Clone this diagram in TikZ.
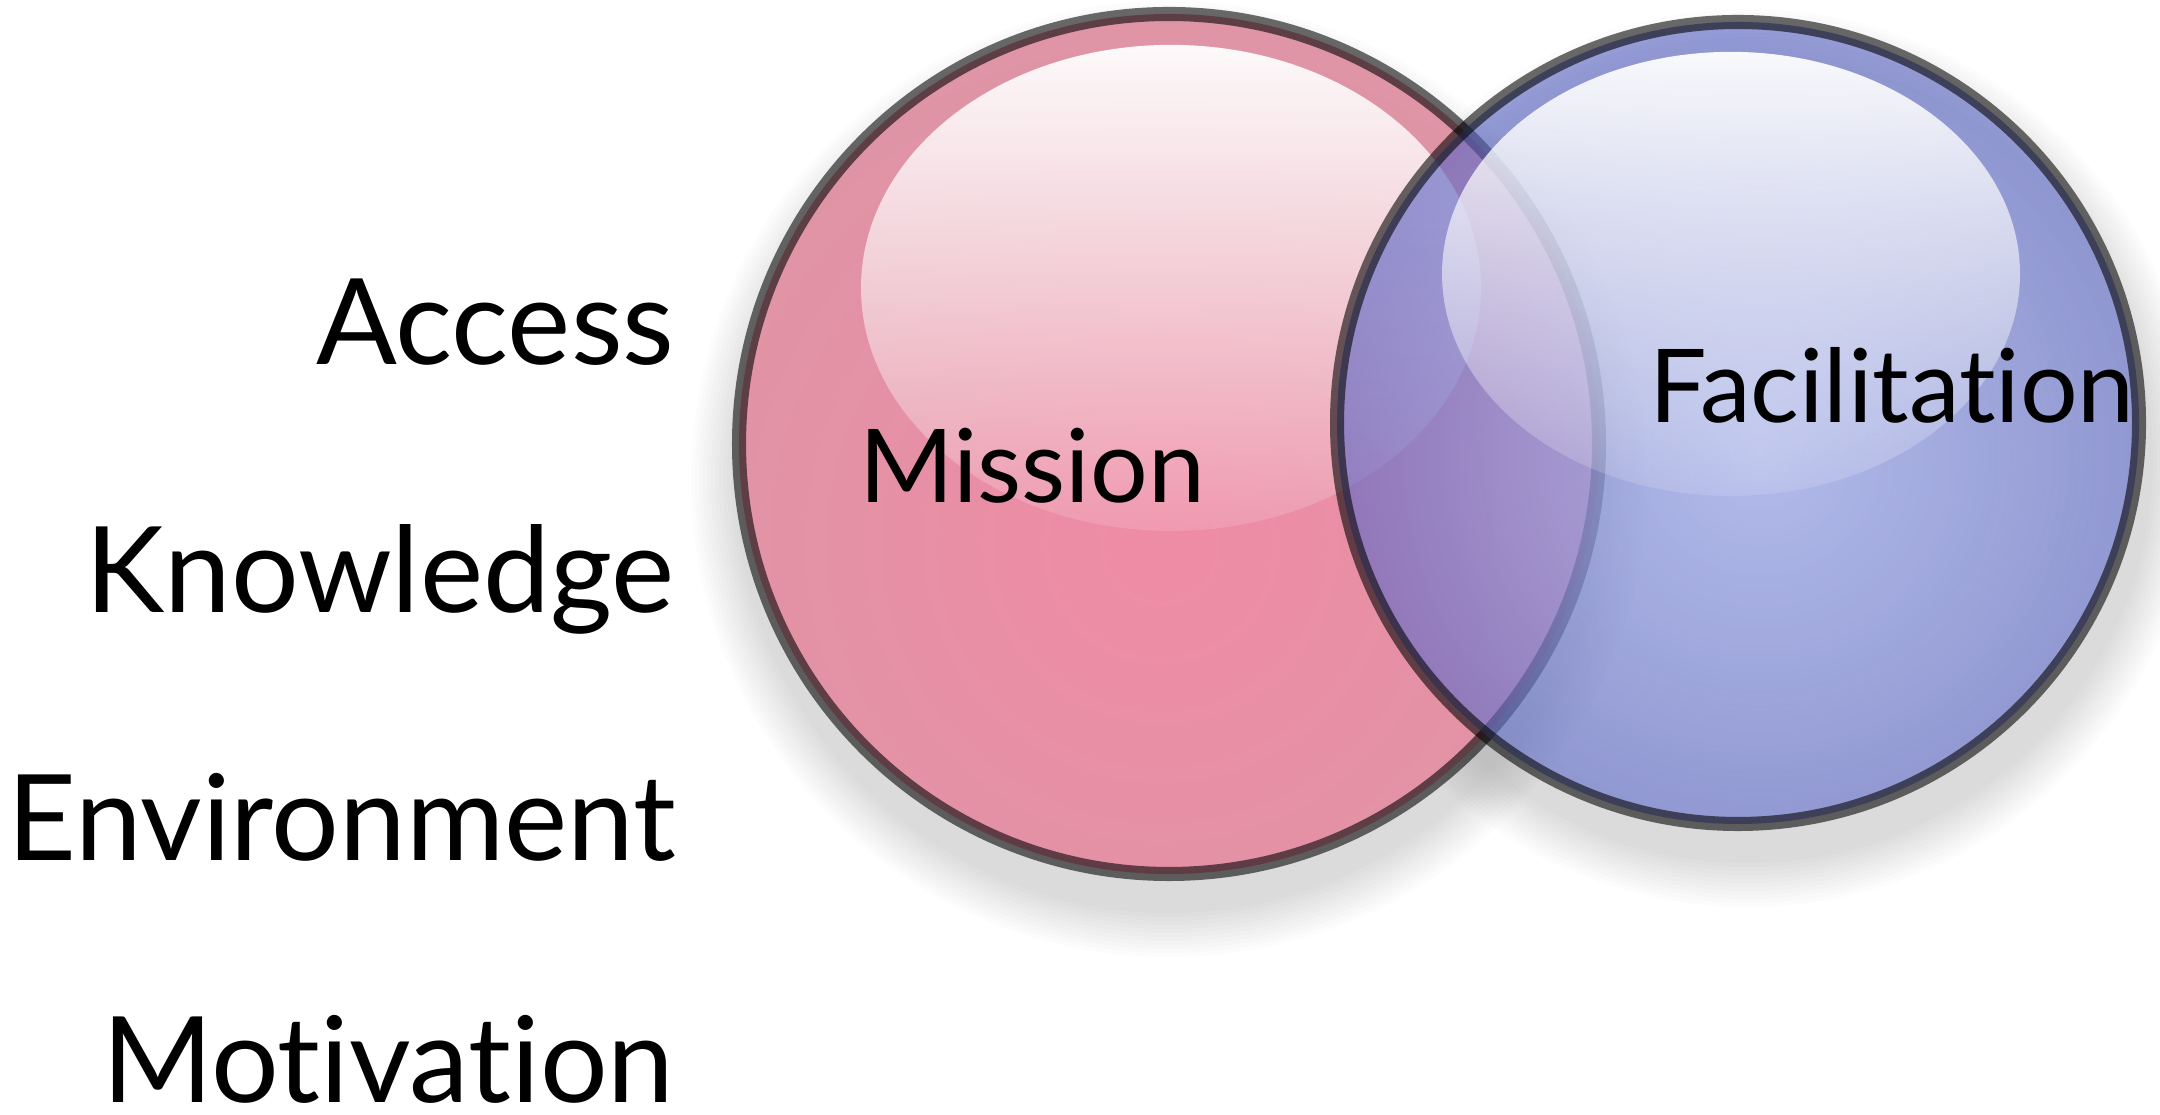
\documentclass[tikz,border=0pt]{standalone}
\usepackage{fontspec}
\setmainfont{Lato}[Ligatures=NoCommon]
\usetikzlibrary{fadings,calc}
\definecolor{missionpink}{RGB}{223,149,165}
\definecolor{missionglow}{RGB}{240,140,166}
\definecolor{facilblue}{RGB}{86,98,196}
\definecolor{facilglow}{RGB}{205,215,255}
\tikzfading[name=glossfade, top color=transparent!5, bottom color=transparent!88]
\tikzfading[name=glowfade, inner color=transparent!0, outer color=transparent!100]
\tikzset{
  factor/.style = {font=\fontsize{34}{40}\selectfont, anchor=base east,
    inner sep=0pt},
  venntext/.style = {font=\fontsize{29}{34}\selectfont, anchor=base,
    inner sep=0pt},
  rim/.style = {draw=black, draw opacity=0.58, line width=4pt},
  gloss/.style = {white, path fading=glossfade}
}

\begin{document}
\begin{tikzpicture}
  \useasboundingbox (0,0) rectangle (21.6,11.15);
  \coordinate (mission) at (11.69,6.71);
  \coordinate (facil) at (17.38,6.92);

  % soft shadows
  \foreach \k in {1,...,12}{
    \fill[black, opacity=0.01] ($(mission)+(0,-0.35)$) circle (4.3+0.04*\k);
    \fill[black, opacity=0.01] ($(facil)+(0.1,-0.35)$) circle (4.01+0.04*\k);
  }

  % mission circle
  \fill[missionpink] (mission) circle (4.3);
  \begin{scope}
    \clip (mission) circle (4.3);
    \fill[missionglow, path fading=glowfade] (11.6,5.7) circle (5);
  \end{scope}
  \fill[gloss] (11.71,8.27) ellipse (3.10 and 2.43);
  \draw[rim] (mission) circle (4.3);

  % facilitation circle
  \fill[facilblue, opacity=0.6] (facil) circle (4.01);
  \begin{scope}
    \clip (facil) circle (4.01);
    \fill[facilglow, path fading=glowfade, fill opacity=0.6] (17.6,6.6) circle (4.4);
  \end{scope}
  \fill[gloss] (17.31,8.41) ellipse (2.89 and 2.22);
  \draw[rim] (facil) circle (4.01);

  \node[venntext] (missiontext) at (10.32,6.12) {Mission};
  \node[venntext] (faciltext) at (18.92,6.92) {Facilitation};

  \node[factor] (access) at (6.75,7.50) {Access};
  \node[factor] (knowledge) at (6.75,5.02) {Knowledge};
  \node[factor] (environment) at (6.77,2.54) {Environment};
  \node[factor] (motivation) at (6.75,0.12) {Motivation};
\end{tikzpicture}
\end{document}
